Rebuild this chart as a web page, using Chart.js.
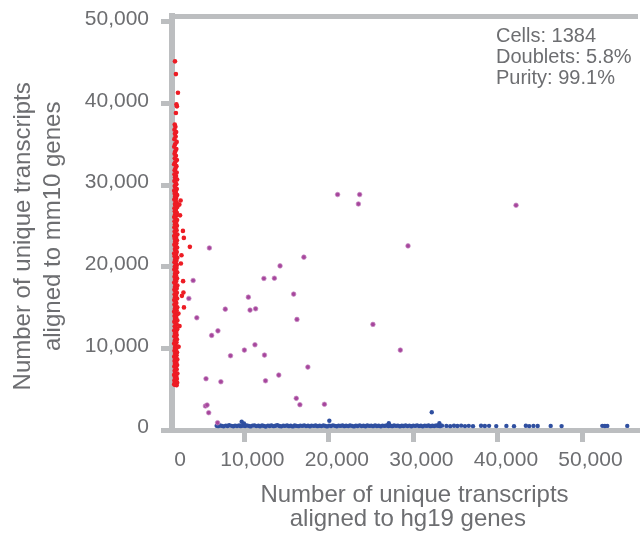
<!DOCTYPE html>
<html><head><meta charset="utf-8">
<script src="https://cdn.jsdelivr.net/npm/chart.js@4/dist/chart.umd.min.js"></script>
<style>html,body{margin:0;padding:0;background:#fff}#wrap{width:642px;height:533px}</style>
</head><body><div id="wrap"><canvas id="c" width="642" height="533"></canvas></div>
<script>
const xTickValues = [0, 10000, 20000, 30000, 40000, 50000];
const xTickLabels = ['0', '10,000', '20,000', '30,000', '40,000', '50,000'];
const yTickValues = [0, 10000, 20000, 30000, 40000, 50000];
const yTickLabels = ['0', '10,000', '20,000', '30,000', '40,000', '50,000'];
const annotationLines = ['Cells: 1384', 'Doublets: 5.8%', 'Purity: 99.1%'];

// [hg19 transcripts, mm10 transcripts]
const mouseCells = [
[1790,45170],[1900,43610],[2140,41330],[1960,39900],[2020,39660],[1900,38840],
[1760,37420],[1840,37150],[1730,36800],[1930,36520],[1780,36300],[1870,35950],[1720,35640],[1990,35300],[1800,35010],[1700,34700],[1950,34420],[1820,34150],[1740,33840],[1900,33600],[1770,33300],[2020,33080],[1810,32810],[1690,32560],[1960,32330],[1840,32040],[1750,31820],[1990,31560],[1730,31340],[1910,31120],[1790,30930],[2040,30700],[1720,30510],[1860,30290],[1950,30110],[1760,29890],[1830,29700],[2000,29540],[1700,29330],[1890,29150],[1760,28950],[2050,28790],[1800,28580],[1930,28420],[1710,28230],[1870,28070],[1990,27880],[1780,27690],[1840,27530],[2060,27340],[1730,27170],[1900,26990],[1770,26800],[2010,26630],[1810,26440],[1960,26280],[1700,26090],[1850,25910],[2040,25740],[1740,25570],[1930,25380],[1790,25200],[2020,25030],[1720,24850],[1860,24670],[1980,24490],[1750,24320],[1830,24130],[2070,23960],[1700,23770],[1910,23600],[1760,23430],[2020,23250],[1800,23060],[1950,22880],[1720,22710],[1870,22530],[2040,22350],[1780,22170],[1840,21990],[2000,21820],[1690,21630],[1920,21460],[1750,21280],[2060,21100],[1820,20920],[1960,20740],[1730,20570],[1880,20390],[2010,20210],[1770,20030],[1970,19850],[1710,19670],[1850,19500],[2050,19320],[1790,19140],[1900,18960],[1740,18780],[2030,18600],[1810,18420],[1940,18250],[1700,18070],[1830,17890],[2070,17710],[1780,17530],[1990,17350],[1720,17180],[1860,17000],[2010,16820],[1750,16640],[1910,16460],[1800,16280],[2040,16110],[1700,15930],[1870,15750],[1950,15570],[1730,15390],[1820,15210],[2060,15040],[1780,14860],[1980,14680],[1690,14500],[1850,14320],[2030,14150],[1740,13970],[1920,13790],[1790,13610],[2070,13430],[1710,13250],[1890,13080],[2000,12900],[1760,12720],[1830,12540],[2050,12360],[1700,12190],[1940,12010],[1800,11830],[1990,11650],[1720,11480],[1870,11300],[2020,11120],[1770,10950],[1960,10760],[1690,10590],[1840,10410],[2080,10230],[1780,10060],[1900,9880],[1730,9700],[2030,9520],[1810,9350],[1970,9170],[1700,8990],[1860,8820],[2060,8650],[1740,8470],[1930,8310],[1790,8120],[2040,7960],[1710,7770],[1880,7610],[1990,7440],[1750,7260],[1830,7090],[2070,6930],[1690,6750],[1940,6570],[1800,6420],[2010,6260],[1720,6080],[1850,5930],[2050,5790],[1700,5620],[1980,5480],[1760,5560],
[2460,28130],[2310,27620],[2390,26300],[2730,24400],[2840,23540],[3550,22440],[2560,21420],[2490,20400],[2750,18240],[2790,16850],[2610,16440],[2850,15020],[2200,14280],[2330,12730],[2220,10200]
];

const humanCells = [
[6720,520],[6900,470],[7130,560],[7350,500],[7540,450],[7810,540],[8020,490],[8200,580],[8470,510],[8690,460],[8900,530],[9130,490],[9380,560],[9560,470],[9680,1020],[9830,520],[9950,800],[10080,480],[10290,550],[10540,500],[10720,440],[10960,530],[11190,570],[11400,480],[11660,520],[11850,460],[12100,550],[12310,500],[12520,430],[12790,540],[13000,490],[13200,560],[13470,470],[13690,520],[13900,580],[14150,490],[14360,450],[14600,530],[14800,500],[15050,560],[15270,470],[15480,520],[15730,440],[15950,550],[16150,500],[16410,470],[16620,540],[16850,500],[17080,570],[17290,480],[17530,520],[17760,450],[17950,540],[18220,500],[18430,560],[18650,470],[18900,520],[19110,480],[19350,550],[19570,500],[19780,440],[20050,1140],[20020,530],[20250,490],[20480,570],[20700,510],[20930,460],[21150,540],[21370,500],[21610,560],[21830,470],[22040,520],[22290,480],[22500,550],[22740,500],[22960,440],[23190,530],[23410,490],[23650,570],[23860,480],[24090,520],[24330,460],[24540,550],[24780,500],[25000,530],[25220,470],[25460,560],[25680,490],[25900,520],[26140,450],[26350,540],[26590,500],[26810,560],[27040,480],[27090,820],[27260,520],[27490,470],[27710,550],[27950,500],[28160,540],[28400,460],[28630,520],[28840,490],[29080,560],[29300,480],[29520,530],[29760,460],[29980,540],[30210,500],[30430,570],[30660,480],[30880,520],[31100,450],[31340,540],[31560,500],[31790,560],[32020,470],[32170,2170],[32240,520],[32460,490],[32700,550],[32920,500],[33070,820],[33150,470],[33380,530],
[33900,500],[34350,470],[34800,520],[35200,490],[35650,530],[36100,480],[36550,510],[37050,470],[38000,520],[38450,490],[38950,510],[39800,480],[41000,500],[41900,470],[43300,520],[43700,480],[44200,500],[44700,490],[46240,500],[47530,480],[52350,510],[52650,490],[52940,500],[55300,500]
];

const mixedCells = [
[21030,28850],[23640,28850],[23490,27700],[42140,27540],[29360,22560],[5860,22310],[17040,21180],[14220,20110],[12310,18570],[13550,18600],[3940,18320],[3430,16120],[10470,16280],[15830,16650],[7740,14810],[10670,14690],[11330,14850],[4370,13750],[16220,13550],[25210,12940],[6870,12150],[6130,11590],[11250,10440],[10000,9790],[28450,9790],[8360,9100],[12380,9180],[17510,7710],[14070,6730],[5460,6280],[7220,5910],[12500,6030],[16140,3880],[16570,3100],[19470,3150],[5390,2940],[5590,3060],[5780,2120],[6830,890]
];

const axisGray = '#bcbec0';
const textGray = '#6d6e71';
const FONT = '"Liberation Sans", Arial, Helvetica, sans-serif';
const X_MIN = 1437, X_MAX = 56452, Y_MIN = 0, Y_MAX = 50730;

const toPts = arr => arr.map(p => ({x: p[0], y: p[1]}));

const annotationPlugin = {
  id: 'annot',
  afterDraw(chart) {
    const ctx = chart.ctx;
    ctx.save();
    ctx.font = '20px ' + FONT;
    ctx.fillStyle = textGray;
    ctx.textBaseline = 'alphabetic';
    ctx.textAlign = 'left';
    annotationLines.forEach((t, i) => ctx.fillText(t, 496, 42 + i * 21));
    ctx.restore();
  }
};

new Chart(document.getElementById('c'), {
  type: 'scatter',
  data: {
    datasets: [
      {label: 'Mixed', data: toPts(mixedCells), pointRadius: 2.3, pointBackgroundColor: '#a6469c', pointBorderColor: 'rgba(200,140,195,0.7)', pointBorderWidth: 1, clip: false},
      {label: 'Mouse', data: toPts(mouseCells), pointRadius: 2.3, pointBackgroundColor: '#ed1c24', pointBorderWidth: 0, clip: false},
      {label: 'Human', data: toPts(humanCells), pointRadius: 2.2, pointBackgroundColor: '#2f4fa0', pointBorderWidth: 0, clip: false}
    ]
  },
  options: {
    responsive: false,
    animation: false,
    devicePixelRatio: 1,
    layout: {padding: 0},
    plugins: {legend: {display: false}, tooltip: {enabled: false}},
    scales: {
      x: {
        type: 'linear', position: 'bottom', min: X_MIN, max: X_MAX,
        afterFit: s => { s.height = 103; },
        afterBuildTicks: s => { s.ticks = xTickValues.map(v => ({value: Math.max(v, X_MIN)})); },
        grid: {drawOnChartArea: false, drawTicks: true, tickLength: 12, lineWidth: 5,
               color: c => (c.index === 0 ? 'rgba(0,0,0,0)' : axisGray)},
        border: {display: true, color: axisGray, width: 5},
        ticks: {autoSkip: false, maxRotation: 0, padding: 6, labelOffset: 8, color: textGray,
                font: {family: FONT, size: 21}, callback: (v, i) => xTickLabels[i]},
        title: {display: true, text: ['   Number of unique transcripts', ' aligned to hg19 genes'],
                color: textGray, font: {family: FONT, size: 24, lineHeight: 1.0}, padding: {top: 0, bottom: 2}}
      },
      xTop: {
        type: 'linear', position: 'top', min: X_MIN, max: X_MAX,
        afterFit: s => { s.height = 16; },
        grid: {drawOnChartArea: false, drawTicks: false, color: 'rgba(0,0,0,0)'},
        border: {display: true, color: axisGray, width: 5},
        ticks: {display: false}
      },
      y: {
        type: 'linear', position: 'left', min: Y_MIN, max: Y_MAX,
        afterFit: s => { s.width = 172; },
        afterBuildTicks: s => { s.ticks = yTickValues.map(v => ({value: v})); },
        grid: {drawOnChartArea: false, drawTicks: true, tickLength: 11, lineWidth: 5, color: axisGray},
        border: {display: true, color: axisGray, width: 6},
        ticks: {padding: 12, color: textGray, labelOffset: -2.5,
                font: {family: FONT, size: 21, lineHeight: 0.2}, callback: (v, i) => yTickLabels[i]},
        title: {display: true, text: ['Number of unique transcripts    ', 'aligned to mm10 genes '],
                color: textGray, font: {family: FONT, size: 24, lineHeight: 1.25}, padding: {top: 8.7, bottom: 0}}
      }
    }
  },
  plugins: [annotationPlugin]
});
</script>
</body></html>
